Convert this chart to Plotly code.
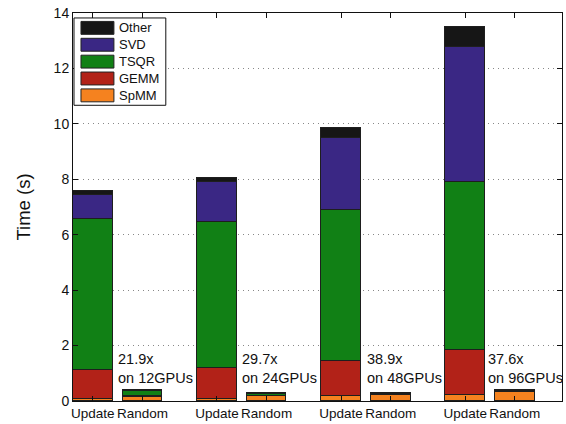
import plotly.graph_objects as go

# Bar positions: Update/Random pairs for each GPU configuration
positions = [1, 2, 3.5, 4.5, 6, 7, 8.5, 9.5]
tick_labels = ["Update", "Random"] * 4

# Stacked time components (seconds), one value per bar
spmm = [0.06, 0.15, 0.08, 0.17, 0.17, 0.20, 0.22, 0.32]
gemm = [1.07, 0.02, 1.11, 0.02, 1.28, 0.02, 1.63, 0.02]
tsqr = [5.44, 0.19, 5.26, 0.07, 5.44, 0.04, 6.05, 0.03]
svd = [0.88, 0.01, 1.45, 0.01, 2.59, 0.01, 4.86, 0.01]
other = [0.12, 0.01, 0.15, 0.01, 0.38, 0.01, 0.74, 0.02]

# Speedup labels placed beside each group
speedups = ["21.9x", "29.7x", "38.9x", "37.6x"]
gpus = ["12GPUs", "24GPUs", "48GPUs", "96GPUs"]
label_x = [1.47, 3.97, 6.49, 8.91]
label_y = [1.18, 1.18, 1.18, 1.18]

series = [
    ("SpMM", spmm, "#f5821f"),
    ("GEMM", gemm, "#b22218"),
    ("TSQR", tsqr, "#118015"),
    ("SVD", svd, "#3a2784"),
    ("Other", other, "#161616"),
]

FONT = "Liberation Sans, Arial, Helvetica, sans-serif"

fig = go.Figure()
for name, vals, color in series:
    fig.add_trace(go.Bar(
        x=positions, y=vals, name=name, width=0.8,
        marker=dict(color=color, line=dict(color="#1e1e1e", width=1)),
        showlegend=False,
    ))

for sx, sy, s, g in zip(label_x, label_y, speedups, gpus):
    fig.add_annotation(
        x=sx, y=sy, xref="x", yref="y", text=f"{s}<br>on {g}",
        showarrow=False, xanchor="left", yanchor="middle", align="left",
        font=dict(family=FONT, size=14.5, color="#111"),
    )

# Legend box with wide swatches, top entry first
legend_items = list(reversed(series))
W, H = 566, 424
ml, mr, mt, mb = 73, 3, 13, 20
pw, ph = W - ml - mr, H - mt - mb


def px_to_paper(px, py):
    return (px - ml) / pw, 1 - (py - mt) / ph


bx0, by0 = px_to_paper(74, 18)
bx1, by1 = px_to_paper(166, 106)
fig.add_shape(type="rect", xref="paper", yref="paper", x0=bx0, y0=by1, x1=bx1, y1=by0,
              line=dict(color="#111", width=1), fillcolor="white", layer="above")
for i, (name, vals, color) in enumerate(legend_items):
    cy = 28 + i * 17
    sx0, sy0 = px_to_paper(81, cy - 6.5)
    sx1, sy1 = px_to_paper(114, cy + 6.5)
    fig.add_shape(type="rect", xref="paper", yref="paper", x0=sx0, y0=sy1, x1=sx1, y1=sy0,
                  line=dict(color="#222", width=1), fillcolor=color, layer="above")
    tx, ty = px_to_paper(117, cy)
    fig.add_annotation(x=tx, y=ty, xref="paper", yref="paper", text=name,
                       showarrow=False, xanchor="left", yanchor="middle",
                       font=dict(family=FONT, size=13, color="#111"))

fig.update_layout(
    barmode="stack",
    width=W, height=H,
    margin=dict(l=ml, r=mr, t=mt, b=mb, pad=0),
    paper_bgcolor="white", plot_bgcolor="white",
    font=dict(family=FONT, size=13.5, color="#111"),
    bargap=0,
)
fig.update_xaxes(
    range=[0.6, 10.45], tickvals=positions, ticktext=tick_labels,
    showgrid=False, showline=True, linecolor="#111", linewidth=1, mirror="ticks",
    ticks="inside", ticklen=5, tickcolor="#111", zeroline=False,
    tickfont=dict(size=13.5),
)
fig.update_yaxes(
    range=[0, 14], dtick=2, tick0=0,
    showgrid=True, gridcolor="#888", griddash="1px,4px", gridwidth=1,
    showline=True, linecolor="#111", linewidth=1, mirror="ticks",
    ticks="inside", ticklen=5, tickcolor="#111", zeroline=False,
    tickfont=dict(size=14),
    title=dict(text="Time (s)", font=dict(size=18.5), standoff=18),
)

fig.write_html("out.html")
